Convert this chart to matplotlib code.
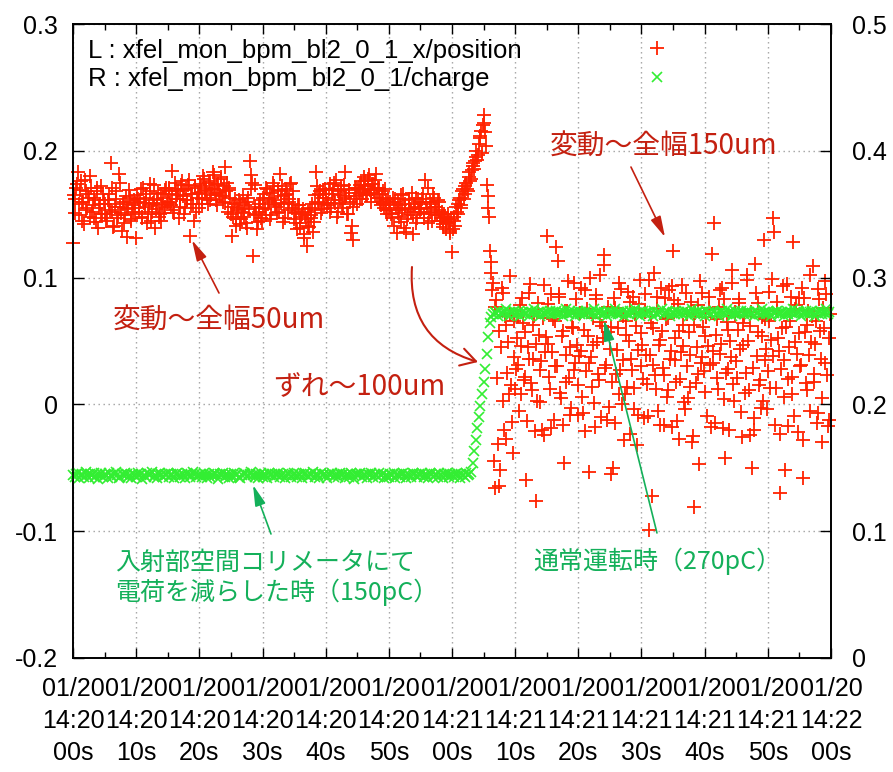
import matplotlib
matplotlib.use('Agg')
import matplotlib.pyplot as plt
import matplotlib.dates as mdates
import numpy as np
import pandas as pd

# BPM の読み値 (4 Hz, 14:20:00 から 2 分間; 位置は 125 ms ずれた 2 パルス分)
START_TIME = '2012-01-20 14:20:00'
SAMPLE_PERIOD = '250ms'
SECOND_PULSE_MS = 125

# x 位置 [um] : 0-60 s (コリメータで電荷を減らした時)
pos_um_before = [
    127, 162, 171, 183, 149, 176, 160, 142, 168, 155, 163, 180, 152, 147, 161, 171, 139, 158, 150, 166,
    150, 145, 161, 158, 190, 152, 141, 168, 147, 182, 156, 137, 160, 149, 132, 155, 163, 145, 152, 159,
    131, 162, 155, 170, 148, 159, 166, 143, 157, 174, 152, 161, 139, 158, 167, 150, 145, 163, 156, 171,
    160, 168, 157, 184, 151, 170, 165, 147, 162, 176, 169, 155, 161, 173, 133, 166, 158, 171, 152, 167,
    166, 172, 158, 178, 169, 163, 175, 161, 170, 181, 167, 157, 174, 165, 179, 160, 187, 168, 152, 171,
    150, 133, 158, 146, 155, 161, 142, 152, 148, 157, 139, 163, 192, 181, 117, 173, 150, 144, 158, 147,
    155, 166, 149, 170, 160, 146, 163, 172, 157, 151, 168, 182, 159, 144, 165, 170, 153, 162, 175, 158,
    146, 152, 138, 157, 143, 150, 134, 149, 125, 141, 155, 147, 136, 153, 183, 160, 166, 151, 169, 158,
    163, 157, 170, 152, 166, 175, 159, 148, 168, 161, 172, 155, 183, 164, 150, 169, 135, 130, 162, 171,
    158, 167, 173, 162, 170, 176, 165, 178, 169, 160, 174, 166, 182, 171, 163, 157, 168, 155, 161, 150,
    153, 160, 147, 158, 162, 135, 151, 157, 144, 166, 155, 136, 149, 161, 152, 134, 158, 163, 147, 155,
    158, 162, 150, 177, 155, 143, 160, 152, 166, 149, 156, 161, 153, 147, 142, 150, 138, 146, 144, 135,
]
# 60-70 s : 切り替え時のずれ
pos_um_jump = [
    120, 148, 141, 152, 158, 163, 155, 170, 166, 175, 168, 183, 178, 190, 186, 195, 193, 205, 212, 198,
    228, 215, 173, 155, 121, 104, 96, -66, 82, -31, -64, 45, 88, -20, 63, 25, 8, 71, -14, 37,
]
# 70-120 s : 通常運転時
pos_um_after = [
    12, 52, 31, 78, 8, 64, 22, -60, 45, 88, 17, 36, 70, -76, 3, 55, 27, -20, 94, 41,
    133, 48, 12, -19, 67, 30, 124, 113, 85, 5, 58, -46, 39, 74, 21, -8, 61, 96, 33, 47,
    15, 72, 42, -7, 90, 26, 54, -53, 37, 68, 1, 83, 49, 19, 102, 62, 110, 29, -12, 57,
    44, -55, -50, 76, 24, 60, 8, 91, 35, -28, 66, 14, 50, 81, 27, -4, 71, -32, 43, 98,
    56, 20, 87, 39, -9, -99, 64, 31, 104, 12, 75, 47, -16, 58, 23, 84, 6, 68, 36, 93,
    121, 52, 18, 79, -27, 41, 63, 2, 88, 30, 57, 14, -30, -81, 72, 45, 24, 97, 37, 61,
    10, 69, 46, 85, -18, 33, 143, 55, 21, 77, 40, 92, 4, -42, 65, 28, 50, 106, 16, 73,
    34, 59, 83, -6, 47, 70, 25, 98, 11, 62, -50, -20, 111, 38, 80, 19, 54, 3, 67, 44,
    26, 89, 51, 147, 136, 13, 74, 42, -23, 60, 35, -52, 95, 20, 66, 8, 128, 49, 78, -22,
    56, 31, -58, 84, 17, 63, 39, 102, 70, 24, 48, -15, 91, 58, 5, 76, 33, 87, -17, 52,
]

# 2 パルス目の x 位置 [um]
pos_um_before_b = [
    165, 151, 174, 158, 169, 145, 160, 177, 153, 166, 148, 171, 157, 163, 144, 168, 155, 172, 150, 161,
    158, 147, 166, 153, 171, 140, 156, 162, 149, 175, 151, 158, 143, 164, 154, 169, 146, 157, 161, 150,
    165, 152, 160, 147, 171, 156, 163, 150, 168, 145, 159, 173, 154, 162, 148, 166, 157, 151, 169, 160,
    171, 159, 166, 153, 175, 162, 168, 156, 173, 164, 150, 170, 161, 177, 158, 166, 145, 172, 163, 155,
    174, 162, 180, 168, 171, 158, 176, 165, 183, 170, 161, 173, 167, 178, 164, 172, 159, 175, 169, 163,
    156, 148, 162, 141, 153, 159, 146, 165, 151, 143, 160, 154, 170, 175, 149, 156, 138, 152, 161, 145,
    163, 154, 171, 158, 167, 149, 175, 161, 156, 169, 152, 164, 172, 158, 147, 166, 160, 174, 155, 168,
    151, 143, 157, 139, 148, 154, 131, 146, 152, 140, 149, 158, 144, 165, 172, 159, 168, 154, 163, 170,
    166, 159, 174, 155, 169, 161, 177, 152, 165, 170, 158, 173, 163, 150, 167, 160, 141, 156, 171, 164,
    170, 162, 176, 168, 179, 165, 172, 181, 167, 174, 169, 177, 163, 171, 160, 166, 158, 170, 153, 162,
    157, 150, 163, 141, 155, 160, 148, 165, 153, 139, 158, 146, 162, 154, 167, 149, 156, 143, 160, 152,
    154, 166, 147, 160, 171, 151, 158, 145, 163, 156, 149, 160, 145, 152, 140, 148, 143, 150, 137, 146,
]
pos_um_jump_b = [
    138, 145, 156, 150, 161, 157, 168, 162, 172, 170, 179, 176, 185, 188, 192, 200, 197, 210, 216, 220,
    222, 204, 164, 148, 112, 90, -45, 77, 21, 58, -52, 92, 3, 70, -27, 49, 101, 15, -38, 66,
]
pos_um_after_b = [
    28, 70, -5, 46, 84, 19, 57, -13, 36, 95, 11, 63, -21, 48, 80, 2, 34, 68, -24, 53,
    79, 22, 87, 41, -12, 66, 30, 87, 9, 54, -16, 74, 18, 97, 45, -3, 60, 27, 83, -8,
    38, 92, 6, 59, -21, 75, 33, 100, 14, 47, -18, 86, 24, 65, -10, 52, 118, 31, 77, -2,
    61, 18, 84, -15, 43, 96, 27, 0, 70, 8, 55, 89, -23, 36, 85, 13, 62, -8, 79, 30,
    47, -11, 73, 16, 98, 39, -72, 60, 23, 85, -5, 51, 92, 29, -16, 67, 11, 90, 42, -18,
    82, 35, -13, 58, 20, 94, 46, -4, 71, 5, 39, 81, -25, 63, 17, 78, -47, 33, 88, 26,
    54, -9, 76, 31, 119, 42, -15, 67, 12, 90, 48, -19, 83, 25, 59, -20, 37, 96, 3, 70,
    21, 80, 44, -26, 64, 9, 102, 50, -24, 73, 29, -11, 88, 57, 15, -3, 69, 130, 35, -4,
    66, 13, 99, 38, -16, 81, 52, -70, 28, 93, 6, 61, -17, 45, 85, 22, -9, 75, 40, 84,
    30, 92, -28, 57, 11, 74, -5, 49, 109, 18, 66, -7, 83, 36, -30, 60, 97, 23, -12, 71,
]

# 電荷 [pC]
charge_pc_low = [
    144, 143, 145, 146, 142, 144, 145, 143, 147, 144, 142, 145, 144, 146, 143, 145, 141, 144, 146, 143,
    145, 144, 142, 146, 144, 143, 145, 147, 144, 142, 143, 145, 144, 146, 145, 143, 144, 142, 145, 144,
    143, 146, 144, 145, 141, 144, 143, 146, 145, 144, 147, 143, 144, 142, 145, 146, 144, 143, 145, 144,
    146, 143, 145, 144, 142, 145, 146, 144, 143, 145, 144, 142, 146, 145, 143, 144, 147, 145, 143, 144,
    144, 145, 143, 146, 144, 142, 145, 143, 144, 146, 145, 144, 141, 145, 144, 146, 143, 145, 144, 142,
    145, 143, 146, 144, 145, 143, 142, 144, 146, 145, 143, 144, 145, 147, 144, 143, 145, 142, 144, 146,
    143, 145, 144, 142, 146, 144, 145, 143, 145, 144, 146, 143, 144, 145, 142, 144, 146, 145, 143, 144,
    146, 144, 143, 145, 144, 142, 145, 146, 144, 143, 145, 144, 147, 143, 145, 144, 142, 146, 144, 145,
    144, 142, 145, 144, 146, 143, 144, 145, 143, 146, 144, 145, 142, 144, 145, 143, 146, 144, 141, 145,
    145, 144, 146, 143, 145, 144, 142, 145, 144, 146, 143, 145, 144, 143, 146, 144, 145, 142, 144, 143,
    143, 145, 144, 146, 142, 145, 144, 143, 145, 146, 144, 142, 145, 144, 143, 146, 145, 144, 143, 145,
    144, 146, 143, 145, 144, 142, 146, 145, 143, 144, 145, 143, 146, 144, 142, 145, 144, 146, 143, 145,
    144, 143, 145, 146, 144, 142, 145, 144, 143, 146, 144, 145,
]
charge_pc_ramp = [147, 154, 163, 172, 181, 190, 199, 208, 218, 228, 240, 253, 264]
charge_pc_high = [
    269, 271, 273, 272, 270, 274, 272, 271, 273, 275, 272, 270, 273, 272, 274, 271, 272, 273, 270, 272,
    273, 271, 272, 274, 270, 273, 272, 275, 271, 272, 273, 270, 274, 272, 271, 273, 272, 274, 271, 273,
    272, 274, 271, 273, 272, 270, 273, 275, 272, 271, 274, 272, 273, 270, 272, 274, 271, 273, 272, 271,
    274, 272, 273, 271, 272, 275, 270, 273, 272, 274, 271, 273, 272, 270, 274, 273, 271, 272, 275, 272,
    271, 273, 272, 274, 270, 272, 273, 271, 274, 272, 273, 275, 271, 272, 270, 273, 274, 272, 271, 273,
    273, 272, 270, 274, 272, 271, 273, 272, 275, 271, 272, 274, 273, 270, 272, 273, 271, 274, 272, 273,
    272, 271, 274, 272, 273, 270, 272, 275, 273, 271, 272, 274, 271, 273, 272, 270, 274, 272, 273, 271,
    274, 273, 271, 272, 270, 273, 274, 272, 271, 275, 272, 273, 270, 272, 274, 271, 273, 272, 274, 272,
    271, 272, 274, 273, 271, 272, 270, 274, 273, 272, 271, 275, 272, 273, 271, 274, 272, 270, 273, 272,
    273, 274, 272, 271, 273, 270, 272, 274, 271, 273, 272, 275, 271, 272, 274, 273, 270, 272, 273, 274,
    272, 271, 273, 274, 272, 270, 273, 272, 274, 271, 273, 272, 275, 271, 273,
]

LEFT_TICKS = [-0.2, -0.1, 0, 0.1, 0.2, 0.3]
LEFT_LABELS = ['-0.2', '-0.1', '0', '0.1', '0.2', '0.3']
RIGHT_TICKS = [0, 0.1, 0.2, 0.3, 0.4, 0.5]
RIGHT_LABELS = ['0', '0.1', '0.2', '0.3', '0.4', '0.5']

charge = np.array(charge_pc_low + charge_pc_ramp + charge_pc_high) / 1000.0  # nC
times = pd.date_range(START_TIME, periods=len(charge), freq=SAMPLE_PERIOD)
times_b = times + pd.Timedelta(milliseconds=SECOND_PULSE_MS)

pos_a = pos_um_before + pos_um_jump + pos_um_after
pos_b = pos_um_before_b + pos_um_jump_b + pos_um_after_b
position = np.array(pos_a + pos_b) / 1000.0   # mm
pos_times = times.append(times_b)

plt.rcParams['font.family'] = ['Liberation Sans', 'Noto Sans CJK JP', 'DejaVu Sans']
plt.rcParams['axes.unicode_minus'] = False
plt.rcParams['font.size'] = 18

RED = '#ff2200'
GREEN = '#33ee33'
RED_TXT = '#c42010'
GREEN_TXT = '#14b05a'
CJK = ['Noto Sans CJK JP', 'DejaVu Sans']

fig = plt.figure(figsize=(8.93, 7.72), dpi=100)
ax = fig.add_axes([0.08175, 0.14767, 0.84882, 0.82124])
ax2 = ax.twinx()

pos_line, = ax.plot(pos_times, position, ls='none', marker='+', ms=10, mew=1.3,
                    color=RED, clip_on=False)
chg_line, = ax2.plot(times, charge, ls='none', marker='x', ms=6.5, mew=1.2,
                     color=GREEN, clip_on=False)

t0 = pd.Timestamp(START_TIME)
ax.set_xlim(t0, t0 + pd.Timedelta(seconds=120))
ax.set_ylim(-0.2, 0.3)
ax2.set_ylim(0, 0.5)

ax.xaxis.set_major_locator(mdates.SecondLocator(bysecond=range(0, 60, 10)))
ax.xaxis.set_minor_locator(mdates.SecondLocator(bysecond=range(5, 60, 10)))
ax.xaxis.set_major_formatter(mdates.DateFormatter('%m/%d\n%H:%M\n%Ss'))
ax.set_yticks(LEFT_TICKS, labels=LEFT_LABELS)
ax2.set_yticks(RIGHT_TICKS, labels=RIGHT_LABELS)

ax.tick_params(axis='x', which='major', direction='in', length=7, width=1, top=True, pad=14)
ax.tick_params(axis='x', which='minor', direction='in', length=4, width=1, top=True)
ax.tick_params(axis='y', direction='in', length=8, width=1, pad=11, right=False)
ax2.tick_params(axis='y', direction='in', length=8, width=1, pad=15)
for tick in ax.xaxis.get_major_ticks():
    tick.label1.set_linespacing(1.42)
for a in (ax, ax2):
    for sp in a.spines.values():
        sp.set_linewidth(1.2)

ax.grid(True, which='major', color='#a0a0a0', lw=1.0, ls=(0, (1, 2.6)))

# 凡例
ax2.text(0.02, 0.957, 'L : xfel_mon_bpm_bl2_0_1_x/position', transform=ax2.transAxes,
         va='center', ha='left', fontsize=18.5)
ax2.text(0.02, 0.913, 'R : xfel_mon_bpm_bl2_0_1/charge', transform=ax2.transAxes,
         va='center', ha='left', fontsize=18.5)
ax2.legend([pos_line, chg_line], ['', ''], loc='center', bbox_to_anchor=(0.77, 0.935),
           frameon=False, numpoints=1, handlelength=1.0, handletextpad=0,
           borderpad=0, borderaxespad=0, labelspacing=0.3, fontsize=17)

# 注釈
arrow_red = dict(arrowstyle='-|>,head_length=0.7,head_width=0.18', color=RED_TXT,
                 lw=1.2, shrinkA=0, shrinkB=0)
arrow_green = dict(arrowstyle='-|>,head_length=0.7,head_width=0.18', color=GREEN_TXT,
                   lw=1.2, shrinkA=0, shrinkB=0)

ax2.text(0.0528, 0.533, '変動～全幅50um', transform=ax2.transAxes, color=RED_TXT,
         fontsize=20, family=CJK, va='center', ha='left')
ax2.annotate('', xy=(0.157, 0.659), xytext=(0.1926, 0.5757), xycoords='axes fraction',
             arrowprops=arrow_red)

ax2.text(0.6293, 0.8076, '変動～全幅150um', transform=ax2.transAxes, color=RED_TXT,
         fontsize=20, family=CJK, va='center', ha='left')
ax2.annotate('', xy=(0.781, 0.664), xytext=(0.7361, 0.7744), xycoords='axes fraction',
             arrowprops=arrow_red)

ax2.text(0.2639, 0.4274, 'ずれ～100um', transform=ax2.transAxes, color=RED_TXT,
         fontsize=20, family=CJK, va='center', ha='left')
ax2.annotate('', xy=(0.5343, 0.4669), xytext=(0.4472, 0.6167), xycoords='axes fraction',
             arrowprops=dict(arrowstyle='->,head_length=0.6,head_width=0.35', color=RED_TXT,
                             lw=1.5, shrinkA=0, shrinkB=0,
                             connectionstyle='arc3,rad=0.4'))

ax2.text(0.0554, 0.1262, '入射部空間コリメータにて\n電荷を減らした時（150pC）',
         transform=ax2.transAxes, color=GREEN_TXT, fontsize=18, family=CJK,
         va='center', ha='left', linespacing=1.15)
ax2.annotate('', xy=(0.2375, 0.2729), xytext=(0.2612, 0.1956), xycoords='axes fraction',
             arrowprops=arrow_green)

ax2.text(0.6069, 0.153, '通常運転時（270pC）', transform=ax2.transAxes, color=GREEN_TXT,
         fontsize=18, family=CJK, va='center', ha='left')
ax2.annotate('', xy=(0.7005, 0.5331), xytext=(0.7704, 0.1972), xycoords='axes fraction',
             arrowprops=arrow_green)

fig.savefig('out.png', dpi=100)
